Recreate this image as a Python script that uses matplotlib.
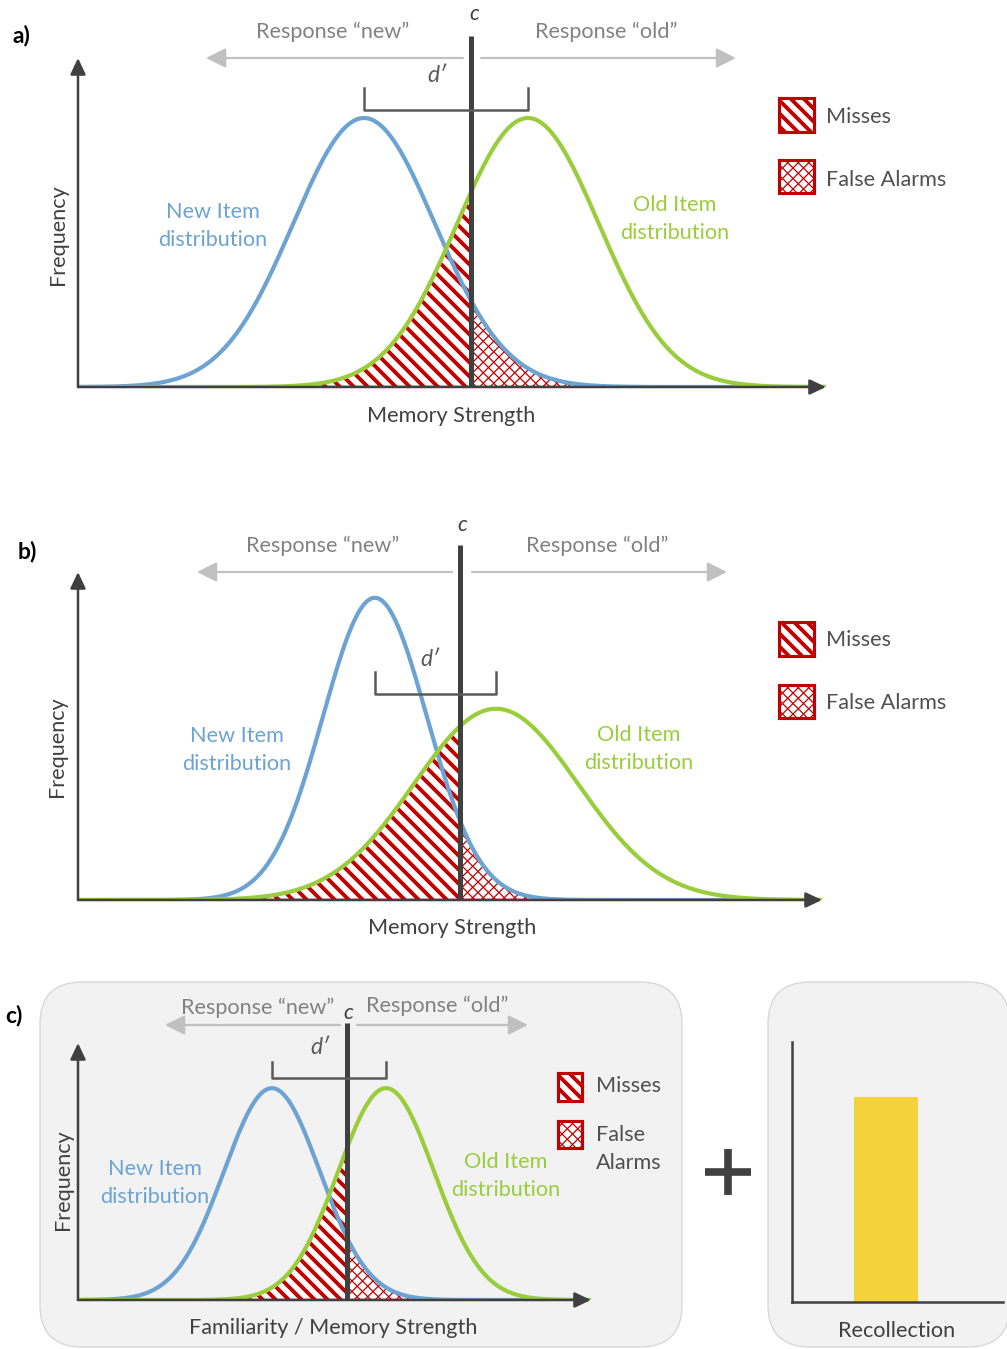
import numpy as np
import matplotlib
matplotlib.use("Agg")
import matplotlib.pyplot as plt
from matplotlib.patches import Polygon, Rectangle, FancyBboxPatch
from matplotlib.collections import LineCollection
from matplotlib.transforms import blended_transform_factory

plt.rcParams['font.family'] = ['Lato', 'DejaVu Sans']

# Signal-detection parameters per panel (units of the new-item SD)
panel_tags = ["a)", "b)", "c)"]
new_mean = [0.0, 0.0, 0.0]
new_sd = [1.0, 1.0, 1.0]
old_mean = [2.31, 2.33, 2.38]
old_sd = [1.0, 1.58, 1.0]
criterion = [1.51, 1.63, 1.56]
x_titles = ["Memory Strength", "Memory Strength", "Familiarity / Memory Strength"]

# Recollection component (panel c, right)
recollection_labels = ["Recollection"]
recollection_values = [0.79]

W, H = 1007, 1349
BLUE = '#6DA3D3'
GREEN = '#9ACD3C'
RED = '#C00000'
DARK = '#404040'
ARROW_GRAY = '#C0C0C0'
RESP_GRAY = '#828282'
LEG_TEXT = '#505050'
YELLOW = '#F4D23A'

fig = plt.figure(figsize=(W / 100, H / 100), dpi=100)


def overlay(z):
    a = fig.add_axes([0, 0, 1, 1], zorder=z)
    a.set_xlim(0, W)
    a.set_ylim(H, 0)
    a.axis('off')
    a.patch.set_visible(False)
    return a


bg = overlay(0)
fg = overlay(10)


def px_axes(l, t, r, b, z=5):
    a = fig.add_axes([l / W, 1 - b / H, (r - l) / W, (b - t) / H], zorder=z)
    a.patch.set_visible(False)
    return a


def stripes(ax, clip, spacing, lw, both=False):
    ks = np.arange(-H, W + H, spacing)
    segs = [[(k, 0), (k + H, H)] for k in ks]
    if both:
        segs += [[(k, 0), (k - H, H)] for k in ks]
    lc = LineCollection(segs, colors=RED, linewidths=lw, transform=fg.transData,
                        zorder=clip.get_zorder() + 0.1)
    ax.add_collection(lc, autolim=False)
    lc.set_clip_path(clip)
    return lc


def gauss(x, m, s):
    return np.exp(-0.5 * ((x - m) / s) ** 2) / (s * np.sqrt(2 * np.pi))


# panel c backgrounds
bg.add_patch(FancyBboxPatch((40, 982), 642, 365, boxstyle="round,pad=0,rounding_size=42",
                            facecolor='#F2F2F2', edgecolor='#D8D8D8', lw=1))
bg.add_patch(FancyBboxPatch((768, 982), 242, 365, boxstyle="round,pad=0,rounding_size=42",
                            facecolor='#F2F2F2', edgecolor='#D8D8D8', lw=1))

# layout of each frequency axes: pixel box (left, top, right, bottom) and x-range
boxes = [(78, 58, 826, 387), (78, 572, 822, 900), (78, 1043, 591, 1300)]
xlims = [(-4.03, 6.51), (-5.71, 8.60), (-4.04, 6.65)]
ytops = [0.488, 0.433, 0.484]
crit_tops = [1.067, 1.082, 1.078]
bracket_y = [(0.909, 0.842), (0.695, 0.628), (0.926, 0.864)]
hatch_sp = [14.0, 14.0, 13.0]
HATCH_LW = 2.8

for i in range(3):
    l, t, r, b = boxes[i]
    ax = px_axes(l, t, r, b)
    ax.set_xlim(*xlims[i])
    ax.set_ylim(0, ytops[i])
    ax.axis('off')
    bt = blended_transform_factory(ax.transData, ax.transAxes)

    x = np.linspace(xlims[i][0], xlims[i][1], 1200)
    fn = gauss(x, new_mean[i], new_sd[i])
    fo = gauss(x, old_mean[i], old_sd[i])
    c = criterion[i]

    # misses: old items below the criterion
    m = x <= c
    mv = [(x[0], 0)] + list(zip(x[m], fo[m])) + [(c, gauss(c, old_mean[i], old_sd[i])), (c, 0)]
    miss = Polygon(mv, closed=True, facecolor='white', edgecolor=RED, lw=1.8, zorder=2)
    ax.add_patch(miss)
    stripes(ax, miss, hatch_sp[i], HATCH_LW)

    # false alarms: new items above the criterion
    f = x >= c
    fv = [(c, 0), (c, gauss(c, new_mean[i], new_sd[i]))] + list(zip(x[f], fn[f])) + [(x[-1], 0)]
    fa = Polygon(fv, closed=True, facecolor='white', edgecolor=RED, lw=1.8, zorder=2)
    ax.add_patch(fa)
    stripes(ax, fa, 10.5, 0.9, both=True)

    ax.plot(x, fn, color=BLUE, lw=3, zorder=4, solid_capstyle='round')
    ax.plot(x, fo, color=GREEN, lw=3, zorder=4, solid_capstyle='round')

    # criterion
    ax.plot([c, c], [0, crit_tops[i]], transform=bt, clip_on=False, color=DARK,
            lw=3.6, zorder=6, solid_capstyle='butt')
    # d' bracket
    lo, hi = bracket_y[i]
    ax.plot([new_mean[i], new_mean[i], old_mean[i], old_mean[i]], [lo, hi, hi, lo],
            transform=bt, clip_on=False, color='#5A5A5A', lw=1.8, zorder=6)

    # axes with arrowheads
    ap = dict(arrowstyle='-|>,head_length=0.7,head_width=0.33', color=DARK, lw=1.8,
              shrinkA=0, shrinkB=0, mutation_scale=14)
    ax.annotate('', xy=(0, 1), xytext=(0, 0), xycoords='axes fraction', arrowprops=ap, zorder=7)
    ax.annotate('', xy=(1, 0), xytext=(0, 0), xycoords='axes fraction', arrowprops=ap, zorder=7)

# response arrows (y, left tail, left head, right tail, right head)
resp = [(58, 463, 206, 481, 736), (572, 452, 197, 472, 727), (1025, 340, 165, 357, 528)]
rap = dict(arrowstyle='-|>,head_length=0.8,head_width=0.4', color=ARROW_GRAY, lw=1.6,
           shrinkA=0, shrinkB=0, mutation_scale=15)
for (y, lt, lh, rt, rh) in resp:
    fg.annotate('', xy=(lh, y), xytext=(lt, y), arrowprops=rap)
    fg.annotate('', xy=(rh, y), xytext=(rt, y), arrowprops=rap)

FS = 15.6
TAG_FS = 16.5


def txt(x, y, s, **kw):
    kw.setdefault('ha', 'center')
    kw.setdefault('va', 'center')
    kw.setdefault('fontsize', FS)
    fg.text(x, y, s, **kw)


# panel a text
txt(21, 35, "a)", fontweight='bold', color='black', fontsize=TAG_FS)
txt(474, 14, "c", style='italic', color=DARK)
txt(333, 32, "Response \u201cnew\u201d", color=RESP_GRAY)
txt(606, 32, "Response \u201cold\u201d", color=RESP_GRAY)
txt(437, 76, "d\u2032", style='italic', color='#5A5A5A', fontsize=16.5)
txt(213, 212, "New Item", color=BLUE)
txt(213, 240, "distribution", color=BLUE)
txt(675, 205, "Old Item", color=GREEN)
txt(675, 233, "distribution", color=GREEN)
txt(58, 235, "Frequency", rotation=90, color=DARK)
txt(451, 416, x_titles[0], color=DARK)
txt(826, 117, "Misses", ha='left', color=LEG_TEXT)
txt(826, 180, "False Alarms", ha='left', color=LEG_TEXT)

# panel b text
txt(27, 551, "b)", fontweight='bold', color='black', fontsize=TAG_FS)
txt(462, 525, "c", style='italic', color=DARK)
txt(323, 546, "Response \u201cnew\u201d", color=RESP_GRAY)
txt(597, 546, "Response \u201cold\u201d", color=RESP_GRAY)
txt(430, 660, "d\u2032", style='italic', color='#5A5A5A', fontsize=16.5)
txt(237, 736, "New Item", color=BLUE)
txt(237, 764, "distribution", color=BLUE)
txt(639, 735, "Old Item", color=GREEN)
txt(639, 763, "distribution", color=GREEN)
txt(57, 747, "Frequency", rotation=90, color=DARK)
txt(452, 928, x_titles[1], color=DARK)
txt(826, 640, "Misses", ha='left', color=LEG_TEXT)
txt(826, 703, "False Alarms", ha='left', color=LEG_TEXT)

# panel c text
txt(14, 1015, "c)", fontweight='bold', color='black', fontsize=TAG_FS)
txt(348, 1013, "c", style='italic', color=DARK)
txt(258, 1008, "Response \u201cnew\u201d", color=RESP_GRAY)
txt(437, 1006, "Response \u201cold\u201d", color=RESP_GRAY)
txt(320, 1048, "d\u2032", style='italic', color='#5A5A5A', fontsize=16.5)
txt(155, 1169, "New Item", color=BLUE)
txt(155, 1197, "distribution", color=BLUE)
txt(506, 1162, "Old Item", color=GREEN)
txt(506, 1190, "distribution", color=GREEN)
txt(63, 1180, "Frequency", rotation=90, color=DARK)
txt(333, 1328, x_titles[2], color=DARK)
txt(596, 1086, "Misses", ha='left', color=LEG_TEXT)
txt(596, 1135, "False", ha='left', color=LEG_TEXT)
txt(596, 1163, "Alarms", ha='left', color=LEG_TEXT)

# legend swatches (left, top, width, height, kind)
swatches = [(779, 98, 35, 34, 'm'), (779, 160, 35, 33, 'f'),
            (779, 622, 35, 34, 'm'), (779, 685, 35, 33, 'f'),
            (558, 1073, 24, 28, 'm'), (558, 1121, 24, 27, 'f')]
for (sx, sy, sw, sh, kind) in swatches:
    rect = Rectangle((sx, sy), sw, sh, facecolor='white', edgecolor=RED, lw=2.2, zorder=3)
    fg.add_patch(rect)
    if kind == 'm':
        stripes(fg, rect, 13.0, HATCH_LW)
    else:
        stripes(fg, rect, 10.5, 0.9, both=True)
    fg.add_patch(Rectangle((sx, sy), sw, sh, facecolor='none', edgecolor=RED, lw=2.2, zorder=4))

# plus sign
fg.plot([705, 751], [1172, 1172], color=DARK, lw=5.5, solid_capstyle='butt')
fg.plot([728, 728], [1149, 1195], color=DARK, lw=5.5, solid_capstyle='butt')

# recollection bar
axr = px_axes(792, 1042, 1003, 1302)
axr.bar(recollection_labels, recollection_values, width=0.6, color=YELLOW, zorder=2)
axr.set_xlim(-0.881, 1.097)
axr.set_ylim(0, 1)
for s in ['top', 'right']:
    axr.spines[s].set_visible(False)
for s in ['left', 'bottom']:
    axr.spines[s].set_color(DARK)
    axr.spines[s].set_linewidth(1.8)
axr.set_xticks([])
axr.set_yticks([])
txt(897, 1331, "Recollection", color=DARK)

fig.savefig("out.png", dpi=100)
